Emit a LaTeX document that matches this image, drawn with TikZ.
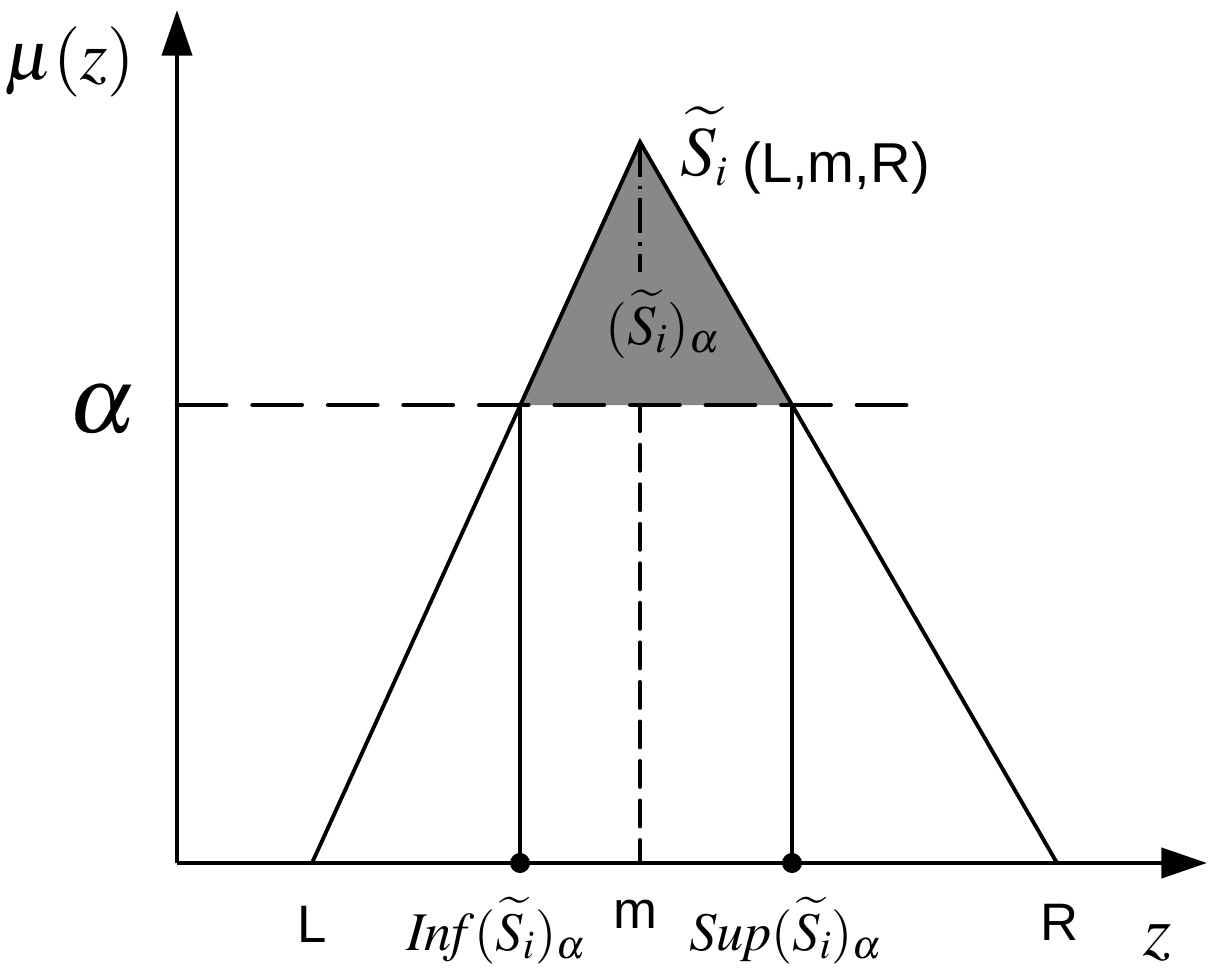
\documentclass[tikz,border=0pt]{standalone}
\usepackage{mathptmx}
\usepackage[no-math]{fontspec}
\setsansfont{Liberation Sans}
\usetikzlibrary{arrows.meta}
\definecolor{fillgray}{RGB}{136,136,136}
\begin{document}
\begin{tikzpicture}[x=0.02cm,y=-0.02cm,
  axis/.style={line width=2.6pt,-{Triangle[length=26pt,width=17pt]}},
  edge/.style={line width=2.2pt},
  alphaline/.style={line width=2.6pt,dash pattern=on 28pt off 15pt,line cap=round},
  mline/.style={line width=2pt,dash pattern=on 15pt off 7.5pt,line cap=round},
  mdashdot/.style={line width=2pt,dash pattern=on 20pt off 5pt on 2pt off 5pt},
  sflab/.style={font=\sffamily\fontsize{30}{30}\selectfont,inner sep=0pt},
  mlab/.style={inner sep=0pt}]
\useasboundingbox (0,0) rectangle (1221,980);
% key points
\coordinate (O) at (177,863);
\coordinate (Ytip) at (177,10);
\coordinate (Xtip) at (1207,863);
\coordinate (L) at (312,863);
\coordinate (P) at (640,142);
\coordinate (R) at (1057,863);
\coordinate (A1) at (520,405);
\coordinate (A2) at (792,405);
\coordinate (B1) at (520,863);
\coordinate (B2) at (792,863);
\coordinate (M) at (640,863);
\coordinate (Ma) at (640,405);
\coordinate (Mt) at (640,272);
\coordinate (Astart) at (177,405);
\coordinate (Aend) at (920,405);
% alpha-cut fill
\fill[fillgray] (A1) -- (P) -- (A2) -- cycle;
% alpha line
\draw[alphaline] (Astart) -- (Aend);
% m line
\draw[mdashdot] (P) -- (Mt);
\draw[mline] (Ma) -- (M);
% triangle
\draw[edge,line join=miter] (L) -- (P) -- (R);
% verticals
\draw[edge] (A1) -- (B1);
\draw[edge] (A2) -- (B2);
% axes
\draw[axis] (O) -- (Ytip);
\draw[axis] (O) -- (Xtip);
% dots
\fill (B1) circle (10);
\fill (B2) circle (10);
% labels
\node[mlab,anchor=base] (mu) at (70,80) {\fontsize{40}{40}\selectfont$\mu(z)$};
\node[mlab,anchor=base] (al) at (102,432) {\fontsize{54}{54}\selectfont$\alpha$};
\node[mlab,anchor=base west] (S) at (680,175) {\fontsize{40}{40}\selectfont$\widetilde{S}_{\scriptscriptstyle i}$};
\node[sflab,anchor=base west] (LmR) at (742,182) {\fontsize{32}{32}\selectfont(L,m,R)};
\node[mlab,anchor=base west] (Sa) at (605,344) {\fontsize{32}{32}\selectfont$(\widetilde{S}_i)_\alpha$};
\node[sflab,anchor=base] (Llab) at (312,942) {L};
\node[sflab,anchor=base] (mlabel) at (635,928) {m};
\node[sflab,anchor=base] (Rlab) at (1060,940) {R};
\node[mlab,anchor=base] (inf) at (496,950) {\fontsize{31}{31}\selectfont$\mathit{Inf}(\widetilde{S}_i)_\alpha$};
\node[mlab,anchor=base] (sup) at (786,950) {\fontsize{31}{31}\selectfont$\mathit{Sup}(\widetilde{S}_i)_\alpha$};
\node[mlab,anchor=base] (z) at (1157,955) {\fontsize{41}{41}\selectfont$z$};
\end{tikzpicture}
\end{document}
